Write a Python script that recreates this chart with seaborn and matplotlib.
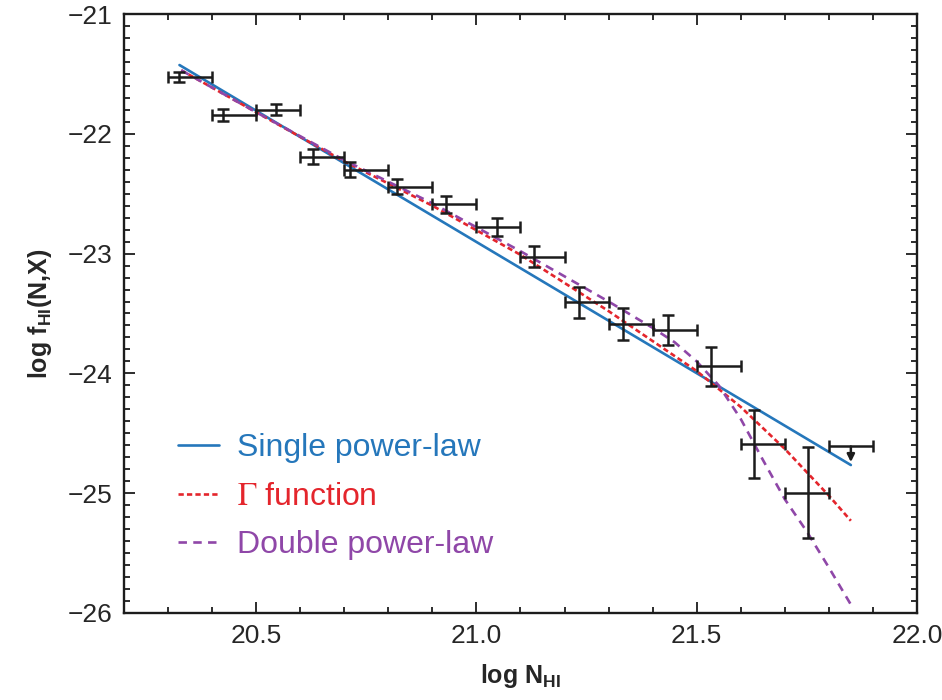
import numpy as np
import pandas as pd
import matplotlib
matplotlib.use("Agg")
import matplotlib.pyplot as plt
import seaborn as sns
from matplotlib import font_manager
from matplotlib.ticker import MultipleLocator, FuncFormatter

# ---------- Data ----------

# binned f_HI(N,X) measurements: bin edges, point position, 1-sigma error
BIN_LO = [20.30, 20.40, 20.50, 20.60, 20.70, 20.80, 20.90, 21.00,
          21.10, 21.20, 21.30, 21.40, 21.50, 21.60, 21.70]
BIN_HI = [20.40, 20.50, 20.60, 20.70, 20.80, 20.90, 21.00, 21.10,
          21.20, 21.30, 21.40, 21.50, 21.60, 21.70, 21.80]
LOG_N = [20.325, 20.424, 20.544, 20.628, 20.714, 20.820, 20.930, 21.047,
         21.130, 21.233, 21.333, 21.435, 21.533, 21.629, 21.752]
LOG_F = [-21.526, -21.843, -21.800, -22.190, -22.300, -22.440, -22.590, -22.775,
         -23.026, -23.407, -23.588, -23.638, -23.940, -24.589, -24.996]
LOG_F_ERR = [0.040, 0.047, 0.047, 0.065, 0.063, 0.060, 0.072, 0.074,
             0.090, 0.128, 0.136, 0.128, 0.163, 0.285, 0.380]

# last bin is an upper limit
LIMIT_LO, LIMIT_HI = 21.80, 21.90
LIMIT_N = 21.85
LIMIT_F = -24.61
LIMIT_ARROW = 0.13

# fitted models
SPL_N = [20.326, 21.850]
SPL_F = [-21.426, -24.765]

GAMMA_N = [20.33, 20.50, 20.70, 20.90, 21.10, 21.30, 21.40, 21.50,
           21.60, 21.70, 21.80, 21.85]
GAMMA_F = [-21.47, -21.82, -22.23, -22.60, -23.01, -23.48, -23.73, -23.98,
           -24.28, -24.63, -25.02, -25.23]

DPL_N = [20.33, 20.50, 20.70, 20.90, 21.10, 21.30, 21.40, 21.45,
         21.50, 21.55, 21.60, 21.65, 21.70, 21.75, 21.80, 21.85]
DPL_F = [-21.47, -21.82, -22.22, -22.58, -22.98, -23.40, -23.62, -23.74,
         -23.90, -24.10, -24.38, -24.72, -25.05, -25.32, -25.62, -25.93]

MODELS = ["Single power-law", r"$\mathrm{\Gamma}$ function", "Double power-law"]
COLORS = ["#2577bb", "#e4252c", "#8f47a8"]


def plot_fhi(save_path="out.png"):
    sns.set_theme(style="ticks")
    names = {f.name for f in font_manager.fontManager.ttflist}
    narrow = "Liberation Sans Narrow" if "Liberation Sans Narrow" in names else "Liberation Sans"
    plt.rcParams["font.family"] = [narrow, "DejaVu Sans"]
    plt.rcParams["mathtext.fontset"] = "stix"
    plt.rcParams["mathtext.default"] = "regular"

    fits = pd.concat([
        pd.DataFrame({"logN": SPL_N, "logf": SPL_F, "model": MODELS[0]}),
        pd.DataFrame({"logN": GAMMA_N, "logf": GAMMA_F, "model": MODELS[1]}),
        pd.DataFrame({"logN": DPL_N, "logf": DPL_F, "model": MODELS[2]}),
    ], ignore_index=True)

    fig = plt.figure(figsize=(9.42, 7.0), dpi=100)
    ax = fig.add_axes([0.1316, 0.1243, 0.8418, 0.8557])

    sns.lineplot(data=fits, x="logN", y="logf", hue="model", style="model",
                 hue_order=MODELS, style_order=MODELS,
                 palette=dict(zip(MODELS, COLORS)),
                 dashes={MODELS[0]: "", MODELS[1]: (2.0, 1.2), MODELS[2]: (3.2, 2.4)},
                 linewidth=1.9, sort=False, ax=ax)

    n = np.array(LOG_N)
    xerr = [n - np.array(BIN_LO), np.array(BIN_HI) - n]
    ax.errorbar(LOG_N, LOG_F, xerr=xerr, yerr=LOG_F_ERR, fmt="none",
                ecolor="#1c1c1c", elinewidth=1.8, capsize=4, capthick=1.8, zorder=5)
    ax.errorbar([LIMIT_N], [LIMIT_F],
                xerr=[[LIMIT_N - LIMIT_LO], [LIMIT_HI - LIMIT_N]], fmt="none",
                ecolor="#1c1c1c", elinewidth=1.8, capsize=4, capthick=1.8, zorder=5)
    ax.annotate("", xy=(LIMIT_N, LIMIT_F - LIMIT_ARROW), xytext=(LIMIT_N, LIMIT_F),
                arrowprops=dict(arrowstyle="-|>", color="#1c1c1c", lw=1.8,
                                mutation_scale=11, shrinkA=0, shrinkB=0), zorder=5)

    ax.set_xlim(20.2, 22.0)
    ax.set_ylim(-26, -21)
    ax.xaxis.set_major_locator(MultipleLocator(0.5))
    ax.xaxis.set_minor_locator(MultipleLocator(0.1))
    ax.yaxis.set_major_locator(MultipleLocator(1))
    ax.yaxis.set_minor_locator(MultipleLocator(0.1))
    ax.xaxis.set_major_formatter(FuncFormatter(lambda v, p: f"{v:.1f}"))
    ax.yaxis.set_major_formatter(FuncFormatter(lambda v, p: f"{v:.0f}".replace("-", "\u2212")))
    ax.tick_params(which="both", direction="in", top=True, right=True,
                   color="#1c1c1c", width=1.3)
    ax.tick_params(which="major", length=8, labelsize=19, pad=8)
    ax.tick_params(which="minor", length=4.5)
    for sp in ax.spines.values():
        sp.set_linewidth(1.7)
        sp.set_color("#1c1c1c")

    ax.set_xlabel(r"log N$_{HI}$", fontsize=18, fontweight="bold", labelpad=10)
    ax.set_ylabel(r"log f$_{HI}$(N,X)", fontsize=18, fontweight="bold", labelpad=10)

    leg = ax.legend(loc="upper left", bbox_to_anchor=(0.068, 0.30), frameon=False,
                    borderpad=0, borderaxespad=0, handlelength=1.3, handletextpad=0.55,
                    labelspacing=0.58, labelcolor="linecolor",
                    prop={"family": ["Liberation Sans", "DejaVu Sans"], "size": 23})
    for line in leg.get_lines():
        line.set_linewidth(1.9)

    fig.savefig(save_path, dpi=100)
    plt.close(fig)


if __name__ == "__main__":
    plot_fhi("out.png")
